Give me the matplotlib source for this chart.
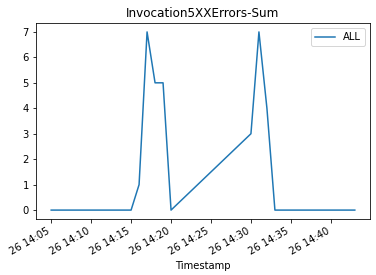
import matplotlib
matplotlib.use("Agg")
import matplotlib.pyplot as plt
import matplotlib.dates as mdates
import pandas as pd

# 每分钟的时间戳（14:21-14:29 无数据）
times = ["14:05", "14:06", "14:07", "14:08", "14:09", "14:10", "14:11", "14:12",
         "14:13", "14:14", "14:15", "14:16", "14:17", "14:18", "14:19", "14:20",
         "14:30", "14:31", "14:32", "14:33", "14:34", "14:35", "14:36", "14:37",
         "14:38", "14:39", "14:40", "14:41", "14:42", "14:43"]
values = [0, 0, 0, 0, 0, 0, 0, 0,
          0, 0, 0, 1, 7, 5, 5, 0,
          3, 7, 4, 0, 0, 0, 0, 0,
          0, 0, 0, 0, 0, 0]

timestamps = pd.to_datetime(["2023-01-26 " + t for t in times])

DPI = 72
fig = plt.figure(figsize=(376 / DPI, 275 / DPI), dpi=DPI)
ax = fig.add_axes([36 / 376, 1 - 219 / 275, (370 - 36) / 376, (219 - 23) / 275])

ax.plot(timestamps, values, color="#1f77b4", label="ALL")

ax.xaxis.set_major_locator(mdates.MinuteLocator(byminute=range(5, 60, 5)))
ax.xaxis.set_major_formatter(mdates.DateFormatter("%d %H:%M"))
for lbl in ax.get_xticklabels():
    lbl.set_rotation(30)
    lbl.set_horizontalalignment("right")

ax.set_yticks(range(0, 8))
ax.set_title("Invocation5XXErrors-Sum")
ax.set_xlabel("Timestamp")
ax.legend(loc="upper right")

fig.savefig("out.png", dpi=DPI)
